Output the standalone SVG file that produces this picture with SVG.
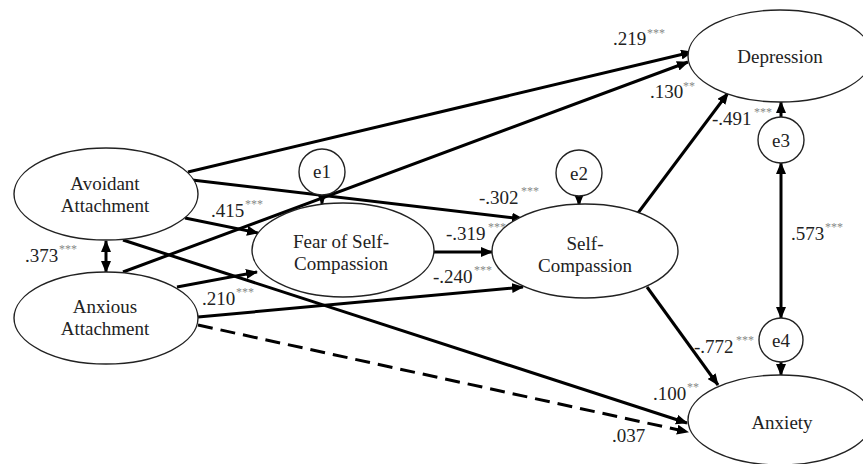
<svg xmlns="http://www.w3.org/2000/svg" width="863" height="464" viewBox="0 0 863 464">
<defs>
<marker id="ah" markerUnits="userSpaceOnUse" markerWidth="12" markerHeight="10" refX="11" refY="5" orient="auto-start-reverse" viewBox="0 0 12 10">
<path d="M0,0 L12,5 L0,10 Z" fill="#000"/>
</marker>
</defs>
<style>
.n{fill:#fff;stroke:#222;stroke-width:1.4}
.t{font-family:"Liberation Serif","Times New Roman",serif;font-size:19px;fill:#222;text-anchor:middle}
.l{font-family:"Liberation Serif","Times New Roman",serif;font-size:19px;fill:#222}
.s{font-family:"Liberation Serif","Times New Roman",serif;font-size:12px;fill:#888}
.c{fill:none;stroke:#000;stroke-width:3;marker-end:url(#ah)}
.d{stroke-dasharray:15 8}
.b{marker-start:url(#ah)}
</style>
<rect width="863" height="464" fill="#fff"/>
<g id="connectors">
<path class="c" d="M188,172 L692,52"/>
<path class="c" d="M123,272 L688,62"/>
<path class="c" d="M192,180 L523,219"/>
<path class="c" d="M185,218 L258,233"/>
<path class="c" d="M177,287 L257,272"/>
<path class="c" d="M198,317 L523,287"/>
<path class="c" d="M123,240 L687,423"/>
<path class="c d" d="M198,325 L688,432"/>
<path class="c" d="M433,252 L492,252"/>
<path class="c" d="M638,213 L728,93"/>
<path class="c" d="M647,287 L718,385"/>
<path class="c" d="M322,195 L322,204"/>
<path class="c" d="M579,196 L579,205"/>
<path class="c" d="M781,117 L781,102"/>
<path class="c" d="M781,362 L781,375"/>
<path class="c b" d="M781,163 L781,318"/>
<path class="c b" d="M106,241 L106,272"/>
</g>
<g id="avoidant"><ellipse class="n" cx="106" cy="194" rx="92" ry="46"/><text class="t" x="105" y="190">Avoidant</text><text class="t" x="105" y="212">Attachment</text></g>
<g id="anxious"><ellipse class="n" cx="106" cy="318" rx="92" ry="46"/><text class="t" x="105" y="313">Anxious</text><text class="t" x="105" y="335">Attachment</text></g>
<g id="fear"><ellipse class="n" cx="343" cy="250" rx="91" ry="47"/><text class="t" x="341" y="248">Fear of Self-</text><text class="t" x="341" y="270">Compassion</text></g>
<g id="selfcomp"><ellipse class="n" cx="585" cy="251" rx="93" ry="47"/><text class="t" x="585" y="250">Self-</text><text class="t" x="585" y="272">Compassion</text></g>
<g id="depression"><ellipse class="n" cx="780" cy="56" rx="92" ry="46"/><text class="t" x="780" y="63">Depression</text></g>
<g id="anxiety"><ellipse class="n" cx="780" cy="420" rx="92" ry="45"/><text class="t" x="782" y="429">Anxiety</text></g>
<g id="e1"><circle class="n" cx="322" cy="172" r="23"/><text class="t" x="322" y="178">e1</text></g>
<g id="e2"><circle class="n" cx="579" cy="173" r="23"/><text class="t" x="579" y="180">e2</text></g>
<g id="e3"><circle class="n" cx="781" cy="140" r="23"/><text class="t" x="781" y="147">e3</text></g>
<g id="e4"><circle class="n" cx="781" cy="340" r="22"/><text class="t" x="781" y="347">e4</text></g>
<g id="labels">
<text class="l" x="613" y="45">.219</text><text class="s" x="647" y="37">***</text>
<text class="l" x="650" y="98">.130</text><text class="s" x="683" y="90">**</text>
<text class="l" x="712" y="125">-.491</text><text class="s" x="754" y="116">***</text>
<text class="l" x="479" y="204">-.302</text><text class="s" x="521" y="195">***</text>
<text class="l" x="446" y="240">-.319</text><text class="s" x="488" y="231">***</text>
<text class="l" x="433" y="283">-.240</text><text class="s" x="474" y="274">***</text>
<text class="l" x="211" y="217">.415</text><text class="s" x="245" y="208">***</text>
<text class="l" x="202" y="305">.210</text><text class="s" x="236" y="296">***</text>
<text class="l" x="25" y="262">.373</text><text class="s" x="59" y="253">***</text>
<text class="l" x="791" y="240">.573</text><text class="s" x="825" y="231">***</text>
<text class="l" x="694" y="353">-.772</text><text class="s" x="736" y="344">***</text>
<text class="l" x="653" y="400">.100</text><text class="s" x="687" y="391">**</text>
<text class="l" x="612" y="442">.037</text>
</g>
</svg>
